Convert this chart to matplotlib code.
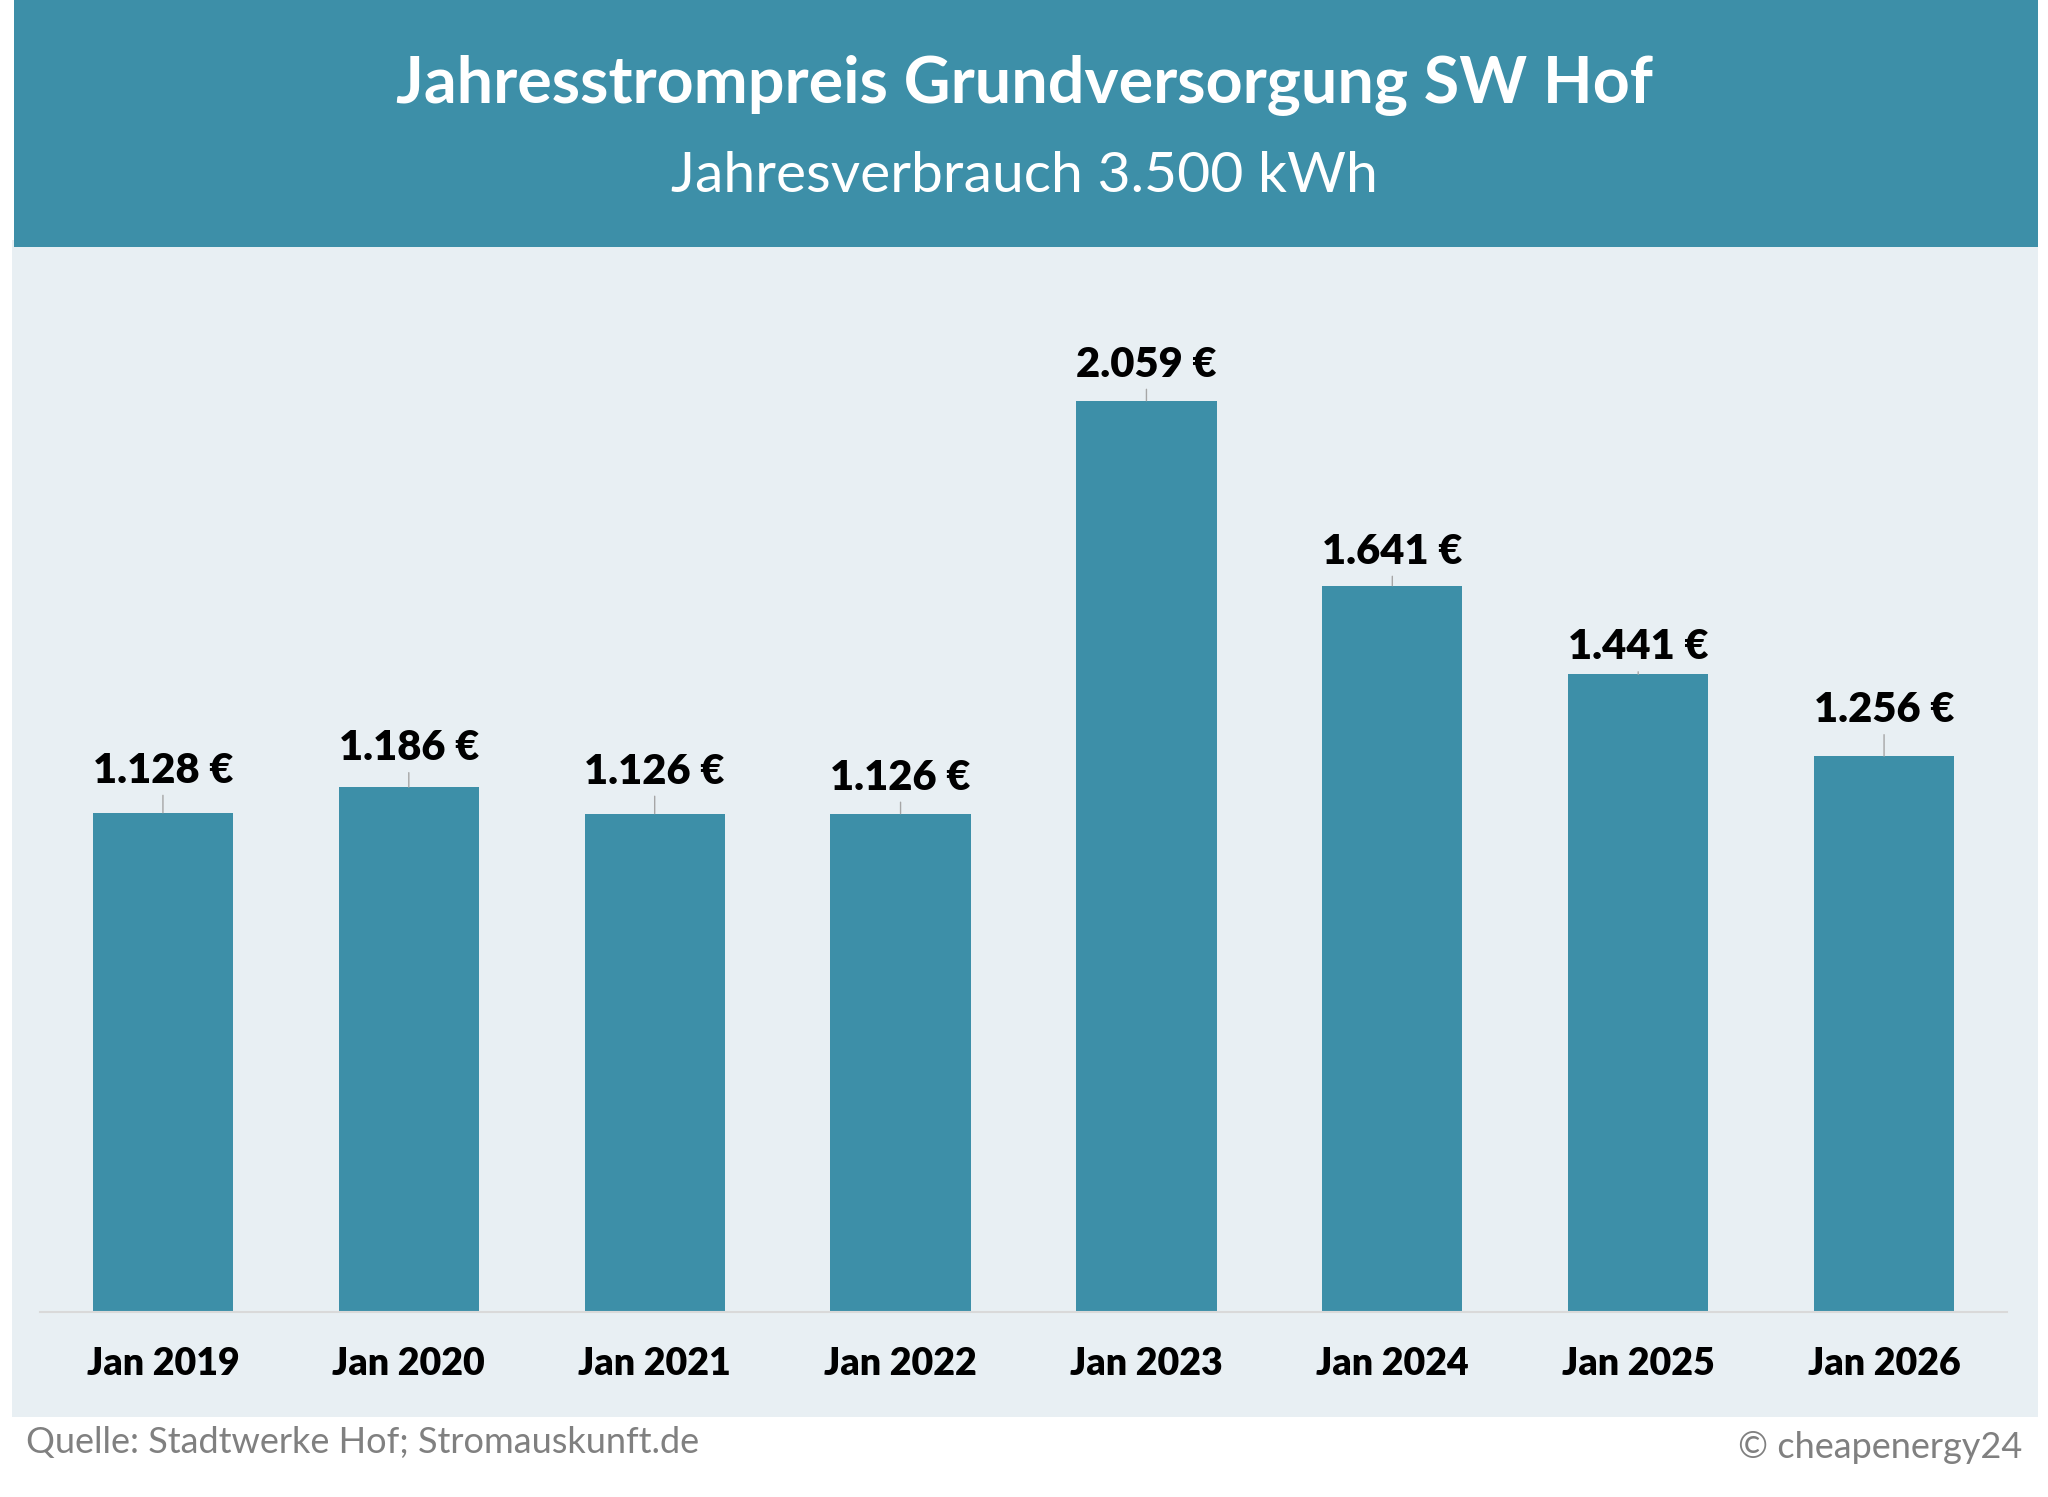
import matplotlib.pyplot as plt
from matplotlib.patches import Rectangle

# Data
months = ['Jan 2019', 'Jan 2020', 'Jan 2021', 'Jan 2022',
          'Jan 2023', 'Jan 2024', 'Jan 2025', 'Jan 2026']
prices = [1128, 1186, 1126, 1126, 2059, 1641, 1441, 1256]

title = 'Jahresstrompreis Grundversorgung SW Hof'
subtitle = 'Jahresverbrauch 3.500 kWh'
source = 'Quelle: Stadtwerke Hof; Stromauskunft.de'
credit = '\u00a9 cheapenergy24'

# label offset above bar top (pixels)
label_offsets = [42, 39, 42, 36, 36, 34, 27, 46]

BAR = '#3D8FA8'
PANEL = '#E8EFF3'
W, H = 2048, 1497

plt.rcParams['font.family'] = ['Lato', 'DejaVu Sans']

fig = plt.figure(figsize=(W / 100, H / 100), dpi=100)
fig.patch.set_facecolor('white')

# light panel and header band (behind the axes)
fig.patches.append(Rectangle((12 / W, 1 - 1417 / H), 2026 / W, (1417 - 240) / H,
                             transform=fig.transFigure, facecolor=PANEL,
                             edgecolor='none', zorder=-2))
fig.patches.append(Rectangle((14 / W, 1 - 247 / H), 2024 / W, 247 / H,
                             transform=fig.transFigure, facecolor=BAR,
                             edgecolor='none', zorder=-1))

fig.text(0.5, 1 - 86 / H, title, ha='center', va='center', color='white',
         fontsize=46.5, fontweight='bold')
fig.text(0.5, 1 - 177 / H, subtitle, ha='center', va='center', color='white',
         fontsize=41)
fig.text(26 / W, 1 - 1443 / H, source, ha='left', va='center', color='#808080',
         fontsize=26)
fig.text(2022 / W, 1 - 1447 / H, credit, ha='right', va='center', color='#808080',
         fontsize=26)

base = 1312
top = 260
ax = fig.add_axes([40 / W, 1 - base / H, 1967 / W, (base - top) / H])
ax.set_facecolor('none')

x = range(len(months))
ax.bar(x, prices, width=0.57, color=BAR, zorder=2)
ax.set_xlim(-0.5, len(months) - 0.5)
ax.set_ylim(0, 2377)

for i, (p, off) in enumerate(zip(prices, label_offsets)):
    label = f'{p:,} \u20ac'.replace(',', '.')
    ax.annotate(label, xy=(i, p), xytext=(0, off), textcoords='offset pixels',
                ha='center', va='center', fontsize=30, fontweight='heavy',
                color='black',
                arrowprops=dict(arrowstyle='-', color='#A6A6A6', lw=1,
                                shrinkA=2, shrinkB=0))

ax.set_xticks(list(x))
ax.set_xticklabels(months, fontsize=27, fontweight='heavy')
ax.tick_params(axis='x', length=0, pad=25)
ax.set_yticks([])
for s in ['top', 'right', 'left']:
    ax.spines[s].set_visible(False)
ax.spines['bottom'].set_color('#D9D9D9')
ax.spines['bottom'].set_linewidth(1.5)

fig.savefig('out.png', dpi=100)
